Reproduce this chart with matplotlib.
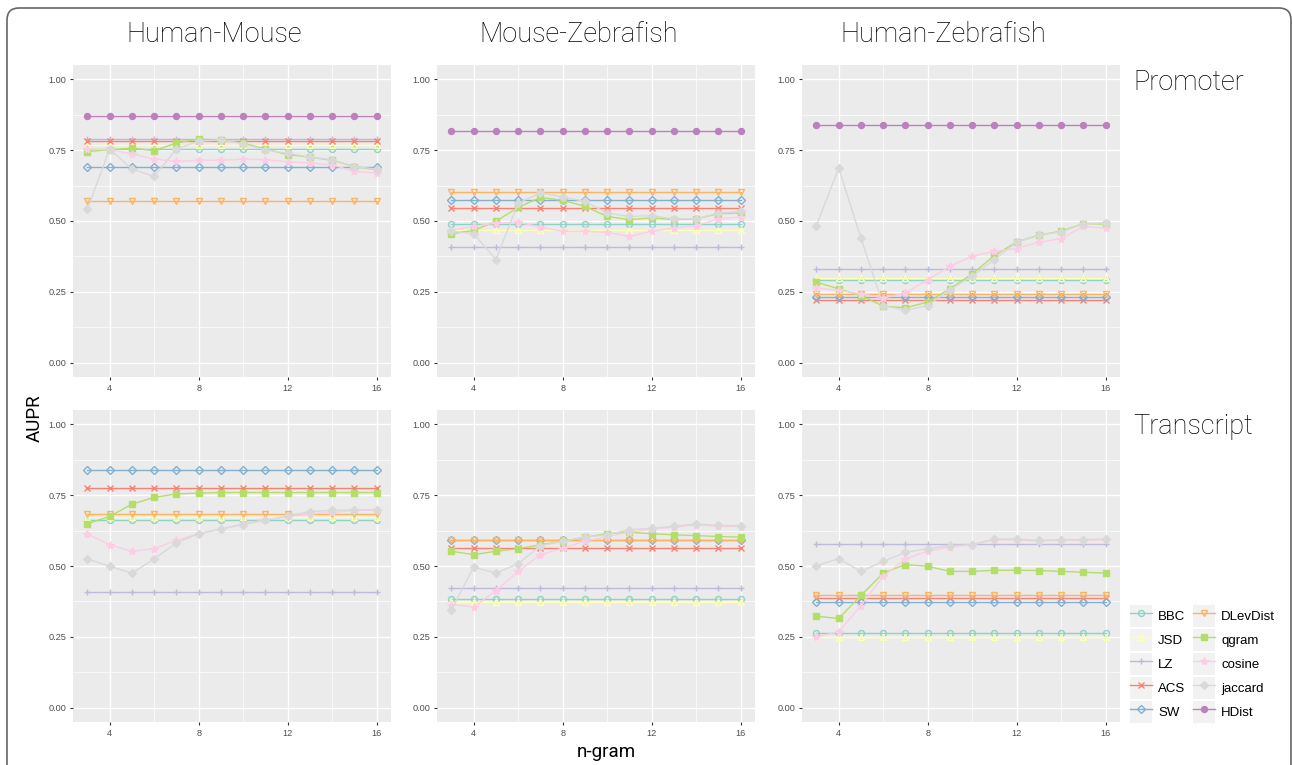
import matplotlib
matplotlib.use("Agg")
import numpy as np
import matplotlib.pyplot as plt
from matplotlib.patches import Patch, FancyBboxPatch
from matplotlib.lines import Line2D
from matplotlib.legend_handler import HandlerTuple
from matplotlib.ticker import MultipleLocator

plt.rcParams['font.family'] = ['Liberation Sans', 'DejaVu Sans']

# n-gram lengths on the x axis
ngram = [3, 4, 5, 6, 7, 8, 9, 10, 11, 12, 13, 14, 15, 16]

methods = ["BBC", "JSD", "LZ", "ACS", "SW", "DLevDist", "qgram", "cosine", "jaccard", "HDist"]
colors = ["#8DD3C7", "#FFFFB3", "#BEBADA", "#FB8072", "#80B1D3",
          "#FDB462", "#B3DE69", "#FCCDE5", "#D9D9D9", "#BC80BD"]
# ggplot shapes 1..6, 15, 8, 18, 16
markers = ["o", "^", "+", "x", "D", "v", "s", "*", "D", "o"]
filled = [False, False, True, True, False, False, True, True, True, True]

cols = ["Human-Mouse", "Mouse-Zebrafish", "Human-Zebrafish"]
rows = ["Promoter", "Transcript"]

# methods that don't depend on n-gram: one value per panel
hm_prom_flat = {"BBC": 0.754, "JSD": 0.769, "LZ": 0.789, "ACS": 0.782, "SW": 0.692,
                "DLevDist": 0.569, "HDist": 0.869}
mz_prom_flat = {"BBC": 0.491, "JSD": 0.469, "LZ": 0.407, "ACS": 0.546, "SW": 0.573,
                "DLevDist": 0.604, "HDist": 0.819}
hz_prom_flat = {"BBC": 0.291, "JSD": 0.299, "LZ": 0.332, "ACS": 0.223, "SW": 0.232,
                "DLevDist": 0.243, "HDist": 0.837}
hm_tran_flat = {"BBC": 0.663, "JSD": 0.673, "LZ": 0.407, "ACS": 0.775, "SW": 0.837,
                "DLevDist": 0.684, "HDist": None}
mz_tran_flat = {"BBC": 0.384, "JSD": 0.372, "LZ": 0.423, "ACS": 0.563, "SW": 0.592,
                "DLevDist": 0.593, "HDist": None}
hz_tran_flat = {"BBC": 0.264, "JSD": 0.249, "LZ": 0.579, "ACS": 0.387, "SW": 0.373,
                "DLevDist": 0.397, "HDist": None}

# methods that vary with n-gram
hm_prom_var = {
    "qgram":   [0.745, 0.751, 0.757, 0.748, 0.775, 0.789, 0.784, 0.775, 0.754, 0.734, 0.725, 0.714, 0.692, 0.681],
    "cosine":  [0.754, 0.751, 0.737, 0.718, 0.710, 0.714, 0.714, 0.718, 0.716, 0.709, 0.704, 0.698, 0.675, 0.669],
    "jaccard": [0.542, 0.754, 0.683, 0.657, 0.754, 0.781, 0.786, 0.772, 0.751, 0.739, 0.725, 0.716, 0.692, 0.683],
}
mz_prom_var = {
    "qgram":   [0.455, 0.467, 0.499, 0.548, 0.583, 0.573, 0.552, 0.516, 0.505, 0.511, 0.505, 0.507, 0.526, 0.528],
    "cosine":  [0.467, 0.481, 0.493, 0.496, 0.478, 0.464, 0.464, 0.460, 0.446, 0.464, 0.475, 0.484, 0.507, 0.514],
    "jaccard": [0.464, 0.455, 0.364, 0.563, 0.599, 0.585, 0.569, 0.528, 0.516, 0.519, 0.507, 0.507, 0.528, 0.534],
}
hz_prom_var = {
    "qgram":   [0.284, 0.261, 0.237, 0.200, 0.194, 0.214, 0.261, 0.313, 0.378, 0.426, 0.450, 0.464, 0.491, 0.489],
    "cosine":  [0.264, 0.255, 0.243, 0.229, 0.246, 0.293, 0.340, 0.376, 0.393, 0.403, 0.425, 0.438, 0.481, 0.475],
    "jaccard": [0.484, 0.687, 0.440, 0.202, 0.185, 0.202, 0.258, 0.305, 0.364, 0.425, 0.452, 0.461, 0.491, 0.493],
}
hm_tran_var = {
    "qgram":   [0.649, 0.675, 0.718, 0.742, 0.754, 0.757, 0.759, 0.759, 0.759, 0.759, 0.759, 0.759, 0.759, 0.759],
    "cosine":  [0.613, 0.575, 0.552, 0.561, 0.590, 0.614, 0.630, 0.649, 0.663, 0.675, 0.684, 0.689, 0.696, 0.698],
    "jaccard": [0.525, 0.499, 0.475, 0.525, 0.581, 0.614, 0.630, 0.646, 0.661, 0.675, 0.692, 0.696, 0.698, 0.698],
}
mz_tran_var = {
    "qgram":   [0.552, 0.540, 0.552, 0.561, 0.575, 0.587, 0.601, 0.614, 0.619, 0.614, 0.610, 0.607, 0.604, 0.602],
    "cosine":  [0.364, 0.356, 0.413, 0.481, 0.540, 0.563, 0.587, 0.604, 0.619, 0.630, 0.637, 0.645, 0.640, 0.639],
    "jaccard": [0.346, 0.496, 0.475, 0.508, 0.572, 0.587, 0.602, 0.610, 0.628, 0.633, 0.640, 0.648, 0.643, 0.642],
}
hz_tran_var = {
    "qgram":   [0.323, 0.315, 0.396, 0.475, 0.505, 0.499, 0.481, 0.481, 0.485, 0.485, 0.484, 0.481, 0.478, 0.475],
    "cosine":  [0.250, 0.268, 0.360, 0.464, 0.525, 0.552, 0.567, 0.575, 0.592, 0.592, 0.588, 0.591, 0.591, 0.593],
    "jaccard": [0.501, 0.526, 0.481, 0.516, 0.548, 0.561, 0.572, 0.575, 0.595, 0.595, 0.590, 0.593, 0.593, 0.595],
}

panels = [[(hm_prom_flat, hm_prom_var), (mz_prom_flat, mz_prom_var), (hz_prom_flat, hz_prom_var)],
          [(hm_tran_flat, hm_tran_var), (mz_tran_flat, mz_tran_var), (hz_tran_flat, hz_tran_var)]]

W, H = 1292, 765
fig = plt.figure(figsize=(W / 100, H / 100), dpi=100)

# outer rounded frame
frame = FancyBboxPatch((0.07, -0.2), 12.84, 7.77, boxstyle="round,pad=0,rounding_size=0.12",
                       transform=fig.dpi_scale_trans, facecolor="none",
                       edgecolor="#666666", linewidth=1.2)
fig.patches.append(frame)

col_left = [73, 437, 802]
row_top = [65, 410]
pw, ph = 318, 312

def style(i):
    kw = dict(color=colors[i], marker=markers[i], linewidth=1.0, markersize=4.3,
              markeredgewidth=1.0)
    if not filled[i]:
        kw["markerfacecolor"] = "none"
    if markers[i] == "D":
        kw["markersize"] = 3.8
    if markers[i] == "*":
        kw["markersize"] = 6
    return kw

for r in range(2):
    for c in range(3):
        ax = fig.add_axes([col_left[c] / W, (H - row_top[r] - ph) / H, pw / W, ph / H])
        ax.set_facecolor("#EBEBEB")
        for sp in ax.spines.values():
            sp.set_visible(False)
        flat, var = panels[r][c]
        for i, m in enumerate(methods):
            if m in var:
                y = var[m]
            else:
                v = flat.get(m)
                if v is None:
                    continue
                y = [v] * len(ngram)
            ax.plot(ngram, y, **style(i), zorder=3 + i * 0.01)
        ax.set_xlim(2.35, 16.65)
        ax.set_ylim(-0.05, 1.05)
        ax.set_xticks([4, 8, 12, 16])
        ax.set_yticks([0, 0.25, 0.5, 0.75, 1.0])
        ax.set_yticklabels(["0.00", "0.25", "0.50", "0.75", "1.00"])
        ax.xaxis.set_minor_locator(MultipleLocator(2))
        ax.yaxis.set_minor_locator(MultipleLocator(0.125))
        ax.grid(which="major", color="white", linewidth=1.0)
        ax.grid(which="minor", color="white", linewidth=0.5)
        ax.set_axisbelow(True)
        ax.tick_params(which="major", length=2.5, width=0.8, color="#333333",
                       labelsize=6.6, labelcolor="#4D4D4D", pad=2.5)
        ax.tick_params(which="minor", length=0)

# column titles (light weight like the original)
big = dict(family=['Roboto', 'Liberation Sans', 'DejaVu Sans'], weight='light', fontsize=19.5)
title_x = [214, 579, 943]
for c in range(3):
    fig.text(title_x[c] / W, 1 - 35 / H, cols[c], ha="center", va="center", **big)

# row labels
row_y = [83, 427]
for r in range(2):
    fig.text(1133 / W, 1 - row_y[r] / H, rows[r], ha="left", va="center", **big)

mid = dict(family=['Roboto', 'Liberation Sans', 'DejaVu Sans'], fontsize=13.5)
fig.text(35 / W, 1 - 418 / H, "AUPR", rotation=90, ha="center", va="center", **mid)
fig.text(606 / W, 1 - 752 / H, "n-gram", ha="center", va="center", **mid)

# legend with grey key boxes
handles = []
for i, m in enumerate(methods):
    ln = Line2D([], [], **style(i))
    handles.append((Patch(facecolor="#F2F2F2", edgecolor="none"), ln))
fig.legend(handles, methods,
           handler_map={tuple: HandlerTuple(ndivide=1, pad=0)},
           loc="upper left", bbox_to_anchor=(1130 / W, 1 - 605 / H), ncol=2,
           frameon=False, fontsize=9.5, numpoints=1, handlelength=1.67,
           handleheight=2.19, handletextpad=0.45, labelspacing=0.15,
           columnspacing=0.6, borderaxespad=0, borderpad=0)

fig.savefig("out.png", dpi=100)
